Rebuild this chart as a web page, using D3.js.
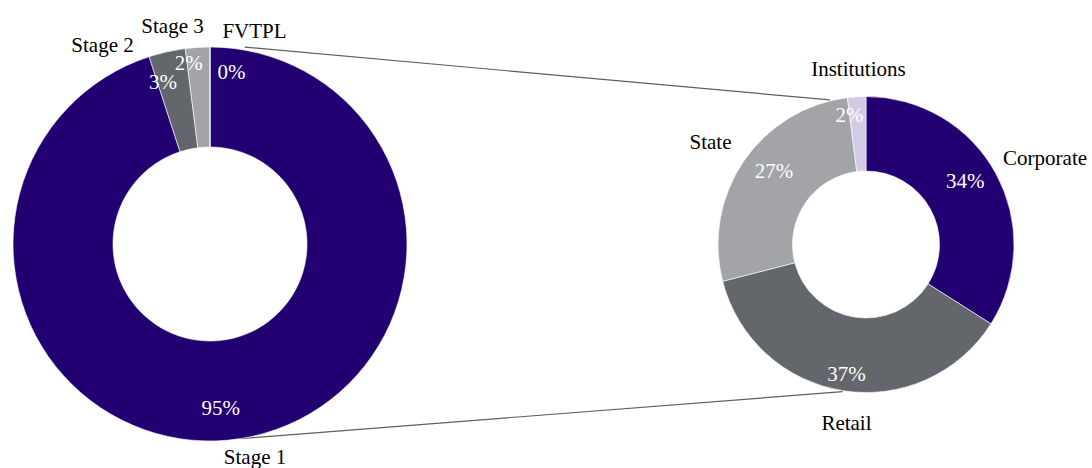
<!DOCTYPE html>
<html><head><meta charset="utf-8">
<script src="https://cdn.jsdelivr.net/npm/d3@7"></script>
<style>
html,body{margin:0;padding:0;background:#fff;}
svg{display:block;}
svg text{font-family:"Liberation Serif","Times New Roman","DejaVu Serif",serif;}
</style>
</head><body>
<svg id="chart" width="1092" height="468"></svg>
<script>
// ---- data ----
const leftCategories = ["Stage 1", "Stage 2", "Stage 3", "FVTPL"];
const leftValues = [95, 3, 2, 0];
const leftLabels = ["95%", "3%", "2%", "0%"];
const rightCategories = ["Corporate", "Retail", "State", "Institutions"];
const rightValues = [34, 37, 27, 2];
const rightLabels = ["34%", "37%", "27%", "2%"];

// ---- styles / layout ----
const leftColors = ["#230071", "#63666a", "#a3a4a7", "#a3a4a7"];
const rightColors = ["#230071", "#63666a", "#a3a4a7", "#d3cbe4"];
const FS = 21;

const svg = d3.select("#chart");

const L = {cx: 210, cy: 244, R: 197, r: 97, pctR: 165, catR: 220,
  pctNudge: [[-15, 1], [-11, -1], [-11, -16], [21.5, -7]],
  catNudge: [[10.6, -4.3], [-59.5, 15.7], [-23.7, 1.6], [44.5, 7]]};
const Rt = {cx: 866, cy: 244.5, R: 148, r: 73.5, pctR: 120, catR: 185,
  pctNudge: [[-6, -5.7], [-0.7, 11], [7.3, -6.1], [-9, -9.7]],
  catNudge: [[17, 2.6], [9.4, -4.2], [-2.5, 1.5], [4, 9]]};

const pie = d3.pie().sort(null).value(d => d.v);

function polar(cfg, angle, radius) {
  return [cfg.cx + radius * Math.sin(angle), cfg.cy - radius * Math.cos(angle)];
}

// connector lines (drawn first, under donuts)
const deg = Math.PI / 180;
const connectors = [
  {a1: 10 * deg, r1: 200, a2: -14 * deg},
  {a1: 171 * deg, r1: 197, a2: 189 * deg}
];
connectors.forEach(c => {
  const p1 = polar(L, c.a1, c.r1);
  const p2 = polar(Rt, c.a2, Rt.R + 1);
  svg.append("line").attr("x1", p1[0]).attr("y1", p1[1])
    .attr("x2", p2[0]).attr("y2", p2[1])
    .attr("stroke", "#5f5f5f").attr("stroke-width", 1.2);
});

function donut(cfg, cats, vals, labels, colors) {
  const data = cats.map((c, i) => ({c, v: vals[i], l: labels[i], col: colors[i], i}));
  const arcs = pie(data);
  const arc = d3.arc().innerRadius(cfg.r).outerRadius(cfg.R);
  const g = svg.append("g").attr("transform", `translate(${cfg.cx},${cfg.cy})`);
  g.selectAll("path").data(arcs).join("path")
    .attr("d", arc).attr("fill", d => d.data.col)
    .attr("stroke", "#fff").attr("stroke-width", 0.6);
  const pctArc = d3.arc().innerRadius(cfg.pctR).outerRadius(cfg.pctR);
  const catArc = d3.arc().innerRadius(cfg.catR).outerRadius(cfg.catR);
  g.selectAll("text.pct").data(arcs).join("text").attr("class", "pct")
    .attr("x", d => pctArc.centroid(d)[0] + cfg.pctNudge[d.data.i][0])
    .attr("y", d => pctArc.centroid(d)[1] + cfg.pctNudge[d.data.i][1])
    .attr("dy", "0.33em").attr("text-anchor", "middle")
    .attr("font-size", FS).attr("fill", "#fff")
    .text(d => d.data.l);
  g.selectAll("text.cat").data(arcs).join("text").attr("class", "cat")
    .attr("x", d => catArc.centroid(d)[0] + cfg.catNudge[d.data.i][0])
    .attr("y", d => catArc.centroid(d)[1] + cfg.catNudge[d.data.i][1])
    .attr("dy", "0.33em").attr("text-anchor", "middle")
    .attr("font-size", FS).attr("fill", "#000")
    .text(d => d.data.c);
}

donut(L, leftCategories, leftValues, leftLabels, leftColors);
donut(Rt, rightCategories, rightValues, rightLabels, rightColors);
</script>
</body></html>
